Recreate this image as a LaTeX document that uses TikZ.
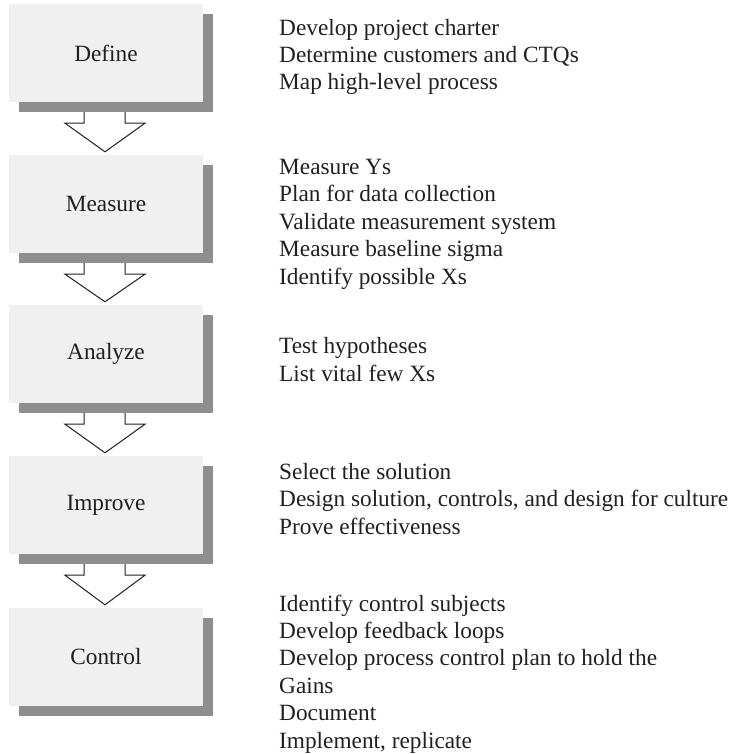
\documentclass[tikz,border=0pt]{standalone}
\usepackage{fontspec}
\setmainfont{Liberation Serif}
\usetikzlibrary{calc,shadows}
\definecolor{boxfill}{HTML}{EFF0EF}
\definecolor{shadowgray}{HTML}{8E8E8E}
\definecolor{ink}{HTML}{231F20}
\tikzset{
  phase/.style={fill=boxfill, minimum width=194pt, minimum height=98pt,
    inner sep=0pt, text=ink,
    general shadow={fill=shadowgray, shadow xshift=10pt, shadow yshift=-10pt}},
  % multi-line nodes sit on the baseline of their last line
  tasks/.style={anchor=base west, align=left, inner sep=0pt, text=ink},
  blockarrow/.style={draw=ink, fill=white, line width=1pt, line join=miter}
}
\begin{document}
\begin{tikzpicture}[x=1pt, y=-1pt, font=\fontsize{23.3}{27.4}\selectfont]
\useasboundingbox (0,0) rectangle (729,754);

% DMAIC phases
\node[phase] (def) at (106,53)  {Define};
\node[phase] (mea) at (106,204) {Measure};
\node[phase] (ana) at (106,354) {Analyze};
\node[phase] (imp) at (106,505) {Improve};
\node[phase] (con) at (106,657) {Control};

% block arrows between consecutive phases
\foreach \a/\b in {def/mea, mea/ana, ana/imp, imp/con}{
  \draw[blockarrow]
    ($(\a.south)+(-22,10)$) -- ($(\a.south)+(-22,21)$)
    -- ($(\a.south)+(-41,21)$) -- ($(\b.north)+(-1,-3)$)
    -- ($(\a.south)+(39,21)$) -- ($(\a.south)+(19,21)$)
    -- ($(\a.south)+(19,10)$);
}

% activities of each phase
\node[tasks] (tdef) at (279,90) {Develop project charter\\
  Determine customers and CTQs\\Map high-level process};
\node[tasks] (tmea) at (279,284) {Measure Ys\\Plan for data collection\\
  Validate measurement system\\Measure baseline sigma\\Identify possible Xs};
\node[tasks] (tana) at (279,381) {Test hypotheses\\List vital few Xs};
\node[tasks] (timp) at (279,534) {Select the solution\\
  Design solution, controls, and design for culture\\Prove effectiveness};
\node[tasks] (tcon) at (279,748) {Identify control subjects\\
  Develop feedback loops\\Develop process control plan to hold the\\
  Gains\\Document\\Implement, replicate};
\end{tikzpicture}
\end{document}
